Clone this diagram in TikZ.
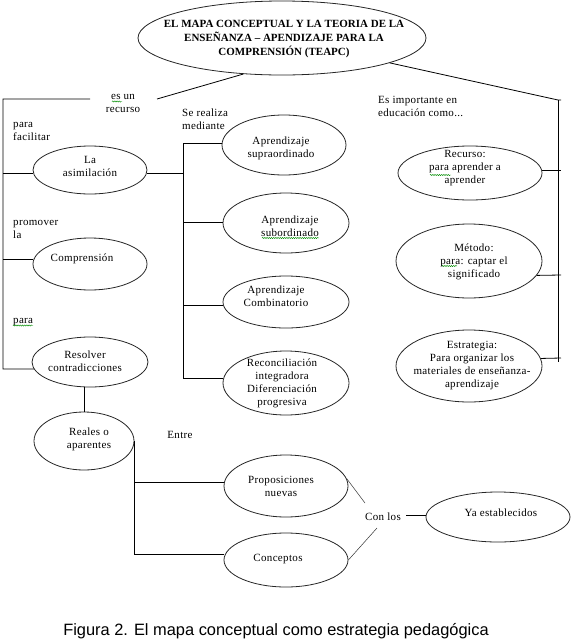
\documentclass[tikz,border=0pt]{standalone}
\usepackage{fontspec}
\setmainfont{Liberation Serif}
\newfontfamily\bodyfont{Liberation Serif}[LetterSpace=3]
\newfontfamily\capfont{Liberation Sans}
\usetikzlibrary{shapes.geometric,decorations.pathmorphing}
\begin{document}
\begin{tikzpicture}[x=1pt,y=-1pt,
  ell/.style={draw=black!85, ellipse, line width=0.8pt, inner sep=0pt},
  txt/.style={font=\bodyfont\fontsize{11}{13}\selectfont, align=center, inner sep=0pt},
  lbl/.style={font=\bodyfont\fontsize{11}{13}\selectfont, align=left, inner sep=0pt, anchor=west},
  conn/.style={line width=0.8pt, draw=black},
  thinconn/.style={line width=0.5pt, draw=black!80},
  squig/.style={draw=green!55!black, line width=0.45pt, decorate,
    decoration={snake, amplitude=0.6pt, segment length=2.2pt}}]
\useasboundingbox (0,0) rectangle (573,643);

% ---------- title ----------
\node[ell, minimum width=288pt, minimum height=74pt] (title) at (282,38) {};
\node[txt, font=\rmfamily\bfseries\fontsize{11}{14}\selectfont] (titleT) at (284,39)
  {EL MAPA CONCEPTUAL Y LA TEORIA DE LA\\ENSEÑANZA – APENDIZAJE PARA LA\\COMPRENSIÓN (TEAPC)};

% ---------- left column ----------
\node[ell, minimum width=114pt, minimum height=48pt] (asim) at (90,170) {};
\node[txt] (asimT) at (90,166.5) {La\\asimilación};
\node[ell, minimum width=114pt, minimum height=52pt] (compr) at (90,264) {};
\node[txt] (comprT) at (82,259) {Comprensión};
\node[ell, minimum width=116pt, minimum height=50pt] (resolver) at (90,362) {};
\node[txt] (resolverT) at (85,361) {Resolver\\contradicciones};
\node[ell, minimum width=100pt, minimum height=58pt] (reales) at (84,441) {};
\node[txt] (realesT) at (89,439.5) {Reales o\\aparentes};

% ---------- middle column ----------
\node[ell, minimum width=124pt, minimum height=60pt] (supra) at (284,145) {};
\node[txt] (supraT) at (281,148) {Aprendizaje\\supraordinado};
\node[ell, minimum width=126pt, minimum height=60pt] (sub) at (286,223) {};
\node[txt] (subT) at (290,226) {Aprendizaje\\subordinado};
\node[ell, minimum width=126pt, minimum height=52pt] (comb) at (286,302) {};
\node[txt] (combT) at (276,296) {Aprendizaje\\Combinatorio};
\node[ell, minimum width=126pt, minimum height=64pt] (recon) at (286,383) {};
\node[txt] (reconT) at (282,383) {Reconciliación\\integradora\\Diferenciación\\progresiva};

% ---------- right column ----------
\node[ell, minimum width=144pt, minimum height=54pt] (recurso) at (470,173) {};
\node[txt] (recursoT) at (465,168) {Recurso:\\para aprender a\\aprender};
\node[ell, minimum width=146pt, minimum height=74pt] (metodo) at (469,261) {};
\node[txt] (metodoT) at (474,262) {Método:\\para: captar el\\significado};
\node[ell, minimum width=146pt, minimum height=72pt] (estrategia) at (469,366) {};
\node[txt] (estrategiaT) at (472,366) {Estrategia:\\Para organizar los\\materiales de enseñanza-\\aprendizaje};

% ---------- bottom ----------
\node[ell, minimum width=124pt, minimum height=62pt] (prop) at (286,486) {};
\node[txt] (propT) at (281,486) {Proposiciones\\nuevas};
\node[ell, minimum width=124pt, minimum height=54pt] (conc) at (286,560) {};
\node[txt] (concT) at (278,559) {Conceptos};
\node[ell, minimum width=144pt, minimum height=50pt] (ya) at (498,517) {};
\node[txt] (yaT) at (501,513) {Ya establecidos};

% ---------- link labels ----------
\node[txt] (esun) at (123,103) {es un\\recurso};
\node[lbl] (parafac) at (13,131) {para\\facilitar};
\node[lbl] (promover) at (13,229) {promover\\la};
\node[lbl] (para) at (13,322) {para};
\node[lbl] (serealiza) at (182,119.5) {Se realiza\\mediante};
\node[lbl] (esimp) at (378,106.5) {Es importante en\\educación como...};
\node[txt] (entre) at (180,435) {Entre};
\node[txt] (conlos) at (383,517) {Con los};

% ---------- caption ----------
\node[font=\capfont\fontsize{16.4}{18}\selectfont, inner sep=0pt] (caption) at (276,631)
  {Figura 2. El mapa conceptual como estrategia pedagógica};

% ---------- junction coordinates ----------
\coordinate (esL) at (90,99);
\coordinate (esR) at (157,99);
\coordinate (lTop) at (3,99);
\coordinate (lAsim) at (3,173);
\coordinate (lComp) at (3,259);
\coordinate (lRes) at (3,369);
\coordinate (mTop) at (183,143);
\coordinate (mAsim) at (183,173);
\coordinate (mSub) at (183,222);
\coordinate (mComb) at (183,305);
\coordinate (mRec) at (183,378);
\coordinate (rTop) at (558,100);
\coordinate (rTick) at (561,100);
\coordinate (rBot) at (558,362);
\coordinate (rRec) at (561,170);
\coordinate (rMet) at (561,275);
\coordinate (rEst) at (561,358);
\coordinate (bProp) at (133,482);
\coordinate (bConc) at (133,554);
\coordinate (clA) at (365,503);
\coordinate (clB) at (377,528);
\coordinate (clC) at (406,515);

% ---------- connectors ----------
\draw[conn] (title.223) -- (esR);
\draw[conn] (esL) -- (lTop) -- (lRes) -- (resolver.187);
\draw[conn] (lAsim) -- (asim.west |- lAsim);
\draw[conn] (lComp) -- (compr.west |- lComp);

\draw[conn] (asim.east |- mAsim) -- (mAsim);
\draw[conn] (mTop) -- (mRec);
\draw[conn] (mTop) -- (supra.west |- mTop);
\draw[conn] (mSub) -- (sub.west |- mSub);
\draw[conn] (mComb) -- (comb.west |- mComb);
\draw[conn] (mRec) -- (recon.west |- mRec);

\draw[conn] (title.-13) -- (rTop) -- (rTick);
\draw[conn] (rTop) -- (rBot);
\draw[conn] (recurso.east |- rRec) -- (rRec);
\draw[conn] (metodo.-12) -- (rMet);
\draw[conn] (estrategia.6) -- (rEst);

\draw[conn] (reales.north |- resolver.south) -- (reales.north);
\draw[conn] (reales.east) -- (reales.east |- bConc) -- (conc.west |- bConc);
\draw[conn] (reales.east |- bProp) -- (prop.west |- bProp);
\draw[thinconn] (prop.7) -- (clA);
\draw[thinconn] (conc.east) -- (clB);
\draw[conn] (clC) -- (ya.west |- clC);

% ---------- spell-check squiggles ----------
\draw[squig] (112,101.5) -- (122,101.5);
\draw[squig] (13,325.5) -- (33,325.5);
\draw[squig] (262,238) -- (319,238);
\draw[squig] (430,175) -- (451,175);
\draw[squig] (442,266) -- (457,266);
\end{tikzpicture}
\end{document}
